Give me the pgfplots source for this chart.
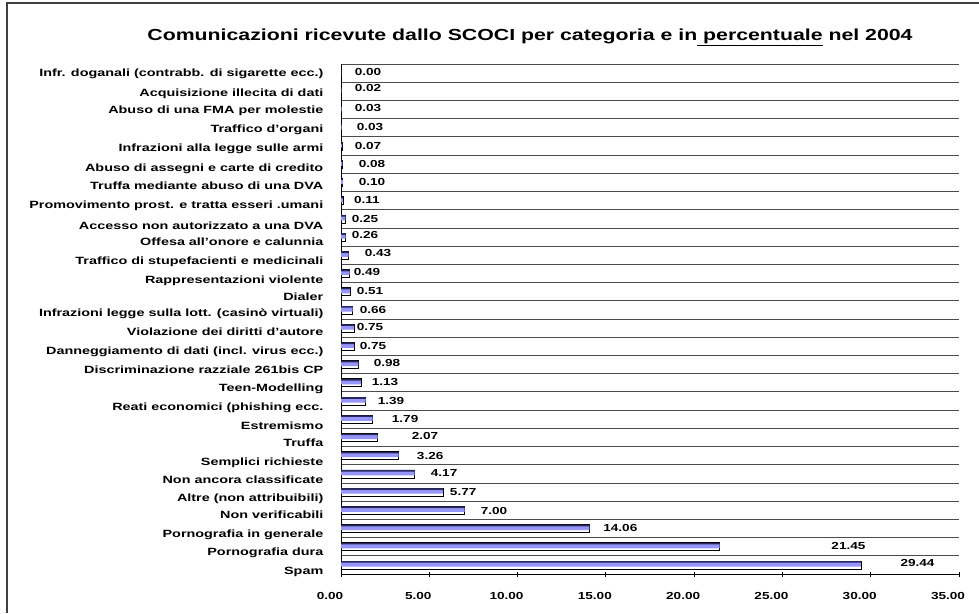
\documentclass[border=0pt]{standalone}
\usepackage{pgfplots}
\pgfplotsset{compat=1.18}
\usepackage{pgfplotstable}
\usepackage{fontspec}
\setmainfont{Liberation Sans}
\usepackage{graphicx}

\definecolor{barblue}{RGB}{150,150,250}
\definecolor{barnavy}{RGB}{40,40,95}
\newcommand\lab{\bfseries\fontsize{10.2}{12}\selectfont}
\newcommand\ylab{\bfseries\fontsize{10.5}{12}\selectfont}
\newcommand\sx[1]{\scalebox{1.33}[1]{#1}}
\newcommand\sy[1]{\scalebox{1.37}[1]{#1}}

\pgfplotstableread{
y val
0 29.44
1 21.45
2 14.06
3 7.00
4 5.77
5 4.17
6 3.26
7 2.07
8 1.79
9 1.39
10 1.13
11 0.98
12 0.75
13 0.75
14 0.66
15 0.51
16 0.49
17 0.43
18 0.26
19 0.25
20 0.11
21 0.10
22 0.08
23 0.07
24 0.03
25 0.03
26 0.02
27 0.00
}\bars

\pgfplotstableread{
lx ly val
1.53 27.08 0.00
1.53 26.20 0.02
1.53 25.10 0.03
1.64 24.06 0.03
1.53 23.02 0.07
1.76 22.03 0.08
1.76 21.04 0.10
1.47 20.05 0.11
1.36 19.01 0.25
1.36 18.13 0.26
2.10 17.14 0.43
1.47 16.09 0.49
1.64 15.05 0.51
1.81 14.01 0.66
1.64 13.07 0.75
1.81 12.03 0.75
2.61 11.09 0.98
2.49 10.05 1.13
2.83 9.01 1.39
3.63 8.02 1.79
4.76 7.08 2.07
5.05 5.98 3.26
5.84 5.05 4.17
6.92 4.01 5.77
8.67 2.96 7.00
15.82 2.03 14.06
28.74 1.04 21.45
32.65 0.10 29.44
}\vlabels

\begin{document}
\begin{tikzpicture}[x=1pt,y=1pt]
\useasboundingbox (0,0) rectangle (979,613);
\draw[line width=1.5pt, black!75] (7,0) -- (7,610) -- (979,610);
\node[font=\bfseries\fontsize{16}{18}\selectfont] at (530,576)
  {\sx{Comunicazioni ricevute dallo SCOCI per categoria e in\underline{\ percentuale} nel 2004}};
\begin{axis}[
  at={(341pt,39pt)}, anchor=south west,
  width=618pt, height=510pt, scale only axis,
  xmin=0, xmax=35, ymin=-0.5, ymax=27.5,
  clip=false,
  axis x line*=bottom, axis y line*=left,
  axis line style={-, black, line width=0.9pt},
  xtick={0,5,...,35},
  xticklabel={\sx{\pgfmathprintnumber[fixed,fixed zerofill,precision=2]{\tick}}},
  /pgf/number format/assume math mode=true,
  x tick label style={font=\lab, yshift=-12pt, xshift=-11pt},
  x tick style={black, line width=0.8pt},
  tick align=center,
  major tick length=5pt,
  ytick={-0.34,0.71,1.70,2.74,3.68,4.66,5.65,6.70,7.63,8.68,9.72,10.71,11.75,12.80,13.84,14.72,15.65,16.70,17.74,18.62,19.77,20.82,21.81,22.91,23.95,24.99,25.93,27.03},
  yticklabels={\sy{Spam},\sy{Pornografia dura},\sy{Pornografia in generale},\sy{Non verificabili},\sy{Altre (non attribuibili)},\sy{Non ancora classificate},\sy{Semplici richieste},\sy{Truffa},\sy{Estremismo},\sy{Reati economici (phishing ecc.},\sy{Teen-Modelling},\sy{Discriminazione razziale 261bis CP},\sy{Danneggiamento di dati (incl. virus ecc.)},\sy{Violazione dei diritti d’autore},\sy{Infrazioni legge sulla lott. (casinò virtuali)},\sy{Dialer},\sy{Rappresentazioni violente},\sy{Traffico di stupefacienti e medicinali},\sy{Offesa all’onore e calunnia},\sy{Accesso non autorizzato a una DVA},\sy{Promovimento prost. e tratta esseri .umani},\sy{Truffa mediante abuso di una DVA},\sy{Abuso di assegni e carte di credito},\sy{Infrazioni alla legge sulle armi},\sy{Traffico d’organi},\sy{Abuso di una FMA per molestie},\sy{Acquisizione illecita di dati}\hspace{10pt},\sy{Infr. doganali (contrabb. di sigarette ecc.)}},
  y tick label style={font=\ylab, anchor=base east, inner sep=0pt, xshift=-15pt, yshift=-3.8pt},
  y tick style={draw=none},
  minor ytick={0.5,1.5,...,27.5},
  yminorgrids=true,
  minor y tick style={draw=none},
  minor y grid style={black!70, line width=0.8pt},
]
\addplot[xbar, bar width=0.44, fill=white, draw=black, line width=0.6pt] table[x=val,y=y] {\bars};
\addplot[xbar, bar width=0.24, bar shift=0.03, fill=barblue, draw=none] table[x=val,y=y] {\bars};
\addplot[xbar, bar width=0.09, bar shift=0.165, fill=barnavy, draw=none] table[x=val,y=y] {\bars};
\addplot[draw=none, mark=none, point meta=explicit,
  nodes near coords={\sx{\pgfmathprintnumber[fixed,fixed zerofill,precision=2]{\pgfplotspointmeta}}},
  every node near coord/.append style={anchor=center, font=\lab, inner sep=0pt}]
  table[x=lx, y=ly, meta=val] {\vlabels};
\end{axis}
\end{tikzpicture}
\end{document}
